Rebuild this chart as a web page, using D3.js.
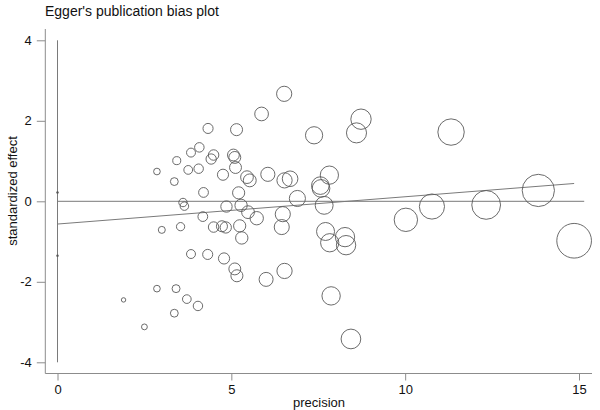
<!DOCTYPE html>
<html>
<head>
<meta charset="utf-8">
<script src="https://cdn.jsdelivr.net/npm/d3@7"></script>
<style>
  html, body { margin: 0; padding: 0; background: #fff; }
  svg { display: block; font-family: "Liberation Sans", Arial, sans-serif; }
</style>
</head>
<body>
<svg id="chart" width="600" height="410"></svg>
<script>
// ---- data (precision, standardized effect) ----
const precision = [
  1.90, 2.50, 2.86, 2.86, 3.00, 3.36, 3.36, 3.41, 3.43, 3.54,
  3.61, 3.65, 3.72, 3.76, 3.84, 3.84, 4.04, 4.06, 4.08, 4.18,
  4.20, 4.33, 4.32, 4.42, 4.49, 4.49, 4.73, 4.76, 4.79, 4.84,
  4.86, 5.06, 5.10, 5.12, 5.10, 5.15, 5.16, 5.21, 5.24, 5.28,
  5.30, 5.45, 5.53, 5.48, 5.73, 5.87, 6.05, 6.00, 6.53, 6.69,
  6.48, 6.45, 6.53, 6.52, 6.90, 7.38, 7.56, 7.58, 7.67, 7.82,
  7.71, 7.83, 7.87, 8.27, 8.30, 8.44, 8.60, 8.73, 10.02, 10.77,
  11.32, 12.33, 13.83, 14.86
];
const stdEffect = [
  -2.45, -3.12, 0.74, -2.17, -0.71, 0.49, -2.78, -2.17, 1.01, -0.63,
  -0.03, -0.12, -2.43, 0.78, 1.21, -1.31, -2.60, 0.81, 1.34, -0.38,
  0.22, 1.81, -1.32, 1.05, 1.15, -0.64, -0.62, 0.66, -1.42, -0.65,
  -0.13, 1.15, 1.09, 0.84, -1.68, 1.78, -1.85, 0.21, -0.61, -0.10,
  -0.91, 0.60, 0.52, -0.27, -0.42, 2.17, 0.67, -1.94, 0.52, 0.56,
  -0.32, -0.64, -1.73, 2.67, 0.07, 1.64, 0.39, 0.32, -0.10, 0.65,
  -0.75, -1.03, -2.35, -0.89, -1.09, -3.42, 1.70, 2.04, -0.46, -0.13,
  1.72, -0.09, 0.27, -0.98
];
// Egger regression: intercept and its confidence interval, slope
const intercept = -0.565;
const interceptCI = [-1.35, 0.22];
const slope = 0.0678;
const xTicks = [0, 5, 10, 15];
const yTicks = [-4, -2, 0, 2, 4];
const zeroLineEnd = 15.15;

// ---- layout ----
const svg = d3.select("#chart");
const x = d3.scaleLinear().domain([0, 15]).range([57.5, 579]);
const y = d3.scaleLinear().domain([-4, 4]).range([362.3, 40.3]);
const r = d3.scaleLinear().domain([0, 15]).range([0, 17.5]);

const axisColor = "#8c8c8c";
const lineColor = "#7a7a7a";
const markColor = "#5a5a5a";

// title
svg.append("text").attr("x", 45).attr("y", 16)
  .attr("font-size", 14).attr("fill", "#111")
  .text("Egger's publication bias plot");

// axes
const yAxis = d3.axisLeft(y).tickValues(yTicks).tickSize(8.5).tickPadding(5)
  .tickFormat(d => String(d));
const gy = svg.append("g").attr("transform", "translate(45.3,0)").call(yAxis);
gy.select(".domain").remove();
gy.append("line").attr("x1", 0).attr("x2", 0).attr("y1", 29).attr("y2", 373.5)
  .attr("stroke", axisColor);

const xAxis = d3.axisBottom(x).tickValues(xTicks).tickSize(7).tickPadding(4)
  .tickFormat(d => String(d));
const gx = svg.append("g").attr("transform", "translate(0,373.5)").call(xAxis);
gx.select(".domain").remove();
gx.append("line").attr("x1", 45.3).attr("x2", 592).attr("y1", 0).attr("y2", 0)
  .attr("stroke", axisColor);

[gx, gy].forEach(g => {
  g.selectAll(".tick line").attr("stroke", axisColor);
  g.selectAll(".tick text").attr("font-size", 13).attr("fill", "#111")
    .attr("font-family", "Liberation Sans, Arial, sans-serif");
});

// axis titles
svg.append("text").attr("x", 319).attr("y", 407)
  .attr("text-anchor", "middle").attr("font-size", 13).attr("fill", "#111")
  .text("precision");
svg.append("text")
  .attr("transform", "translate(17,191) rotate(-90)")
  .attr("text-anchor", "middle").attr("font-size", 13).attr("fill", "#111")
  .text("standardized effect");

// vertical line at precision 0
svg.append("line")
  .attr("x1", x(0)).attr("x2", x(0)).attr("y1", y(4)).attr("y2", y(-4))
  .attr("stroke", lineColor).attr("stroke-width", 1);

// intercept CI markers
svg.selectAll("circle.ci").data(interceptCI).enter().append("circle")
  .attr("class", "ci").attr("cx", x(0)).attr("cy", d => y(d)).attr("r", 1.2)
  .attr("fill", "#555");

// zero line
svg.append("line")
  .attr("x1", x(0)).attr("x2", x(zeroLineEnd)).attr("y1", y(0)).attr("y2", y(0))
  .attr("stroke", lineColor).attr("stroke-width", 1);

// regression line
const maxP = d3.max(precision);
svg.append("line")
  .attr("x1", x(0)).attr("y1", y(intercept))
  .attr("x2", x(maxP)).attr("y2", y(intercept + slope * maxP))
  .attr("stroke", lineColor).attr("stroke-width", 1);

// points
const pts = precision.map((p, i) => ({ p, v: stdEffect[i] }));
svg.append("g").selectAll("circle").data(pts).enter().append("circle")
  .attr("cx", d => x(d.p)).attr("cy", d => y(d.v)).attr("r", d => r(d.p))
  .attr("fill", "none").attr("stroke", markColor).attr("stroke-width", 0.9);
</script>
</body>
</html>
